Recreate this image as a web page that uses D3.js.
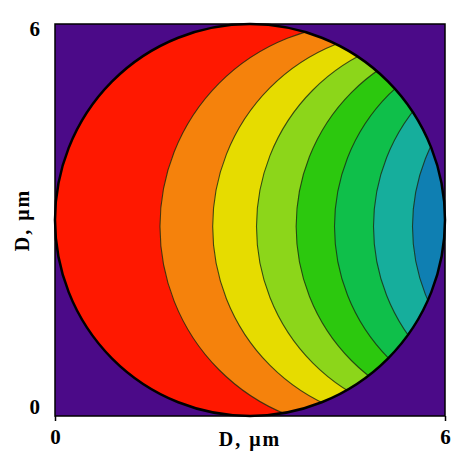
<!DOCTYPE html>
<html><head><meta charset="utf-8">
<script src="https://cdn.jsdelivr.net/npm/d3@7"></script>
<style>body{margin:0;background:#fff}</style>
</head><body>
<script>
// Data (µm)
const domainD = [0, 6];
const xTickLabels = ["0", "6"];
const yTickLabels = ["0", "6"];
const particleCenter = [3, 3];
const particleRadius = 3;
const contourAxisY = 2.9;                 // y of the symmetry axis of contour arcs
const contourMidX = [1.615, 2.426, 3.10, 3.71, 4.30, 4.90, 5.50]; // leftmost x of each contour line
const contourRadius = [3.1, 3.0, 2.95, 2.9, 2.86, 2.86, 2.82];   // radius of each contour arc
const bandColors = ["#ff1800", "#f5820c", "#e6dc00", "#8cd61a", "#2cc80e", "#0fbf4a", "#16ae9c", "#0f7fb2"];
const bgColor = "#4b0a88";

const W = 473, H = 460;
const x = d3.scaleLinear().domain(domainD).range([55, 445]);
const y = d3.scaleLinear().domain(domainD).range([416, 24]);
const kx = x(1) - x(0), ky = y(0) - y(1);

const svg = d3.select("body").append("svg").attr("width", W).attr("height", H);

svg.append("clipPath").attr("id", "disk")
  .append("ellipse")
  .attr("cx", x(particleCenter[0])).attr("cy", y(particleCenter[1]))
  .attr("rx", particleRadius * kx).attr("ry", particleRadius * ky);

svg.append("rect").attr("x", x(0)).attr("y", y(6))
  .attr("width", x(6) - x(0)).attr("height", y(0) - y(6)).attr("fill", bgColor);

const g = svg.append("g").attr("clip-path", "url(#disk)");
g.append("rect").attr("x", x(0)).attr("y", y(6))
  .attr("width", x(6) - x(0)).attr("height", y(0) - y(6)).attr("fill", bandColors[0]);

const contours = contourMidX.map((m, i) => ({cx: m + contourRadius[i], r: contourRadius[i], color: bandColors[i + 1]}));
g.selectAll("ellipse.band").data(contours).join("ellipse").attr("class", "band")
  .attr("cx", d => x(d.cx)).attr("cy", y(contourAxisY))
  .attr("rx", d => d.r * kx).attr("ry", d => d.r * ky)
  .attr("fill", d => d.color)
  .attr("stroke", "#1a2a10").attr("stroke-opacity", 0.8).attr("stroke-width", 1.1);

svg.append("ellipse")
  .attr("cx", x(particleCenter[0])).attr("cy", y(particleCenter[1]))
  .attr("rx", particleRadius * kx).attr("ry", particleRadius * ky)
  .attr("fill", "none").attr("stroke", "#000").attr("stroke-width", 2.5);

// frame
svg.append("rect").attr("x", x(0)).attr("y", y(6))
  .attr("width", x(6) - x(0)).attr("height", y(0) - y(6))
  .attr("fill", "none").attr("stroke", "#000").attr("stroke-width", 1.5);

const font = "'Liberation Serif', 'Times New Roman', serif";
// x axis
const xAxis = d3.axisBottom(x).tickValues([0, 6]).tickFormat((d, i) => xTickLabels[i]).tickSize(5).tickPadding(8);
const xa = svg.append("g").attr("transform", `translate(0,${y(0)})`).call(xAxis);
xa.select(".domain").remove();
xa.selectAll("text").attr("font-family", font).attr("font-weight", "bold").attr("font-size", 21).attr("fill", "#000");
xa.selectAll("line").attr("stroke", "#000").attr("stroke-width", 1.5);

const yAxis = d3.axisLeft(y).tickValues([0, 6]).tickFormat((d, i) => yTickLabels[i]).tickSize(0).tickPadding(15);
const ya = svg.append("g").attr("transform", `translate(${x(0)},0)`).call(yAxis);
ya.select(".domain").remove();
ya.selectAll("text").attr("font-family", font).attr("font-weight", "bold").attr("font-size", 21).attr("fill", "#000")
  .attr("dy", (d) => d === 0 ? "-0.1em" : "0.55em");

function title(sel) {
  sel.attr("text-anchor", "middle").attr("font-family", font).attr("font-weight", "bold")
    .attr("font-size", 20).attr("letter-spacing", "2px")
    .text("D, \u03bcm");
}
svg.append("text").attr("x", x(3)).attr("y", 446).call(title);
svg.append("text").attr("transform", `translate(29,${y(3)}) rotate(-90)`).call(title);
</script>
</body></html>
